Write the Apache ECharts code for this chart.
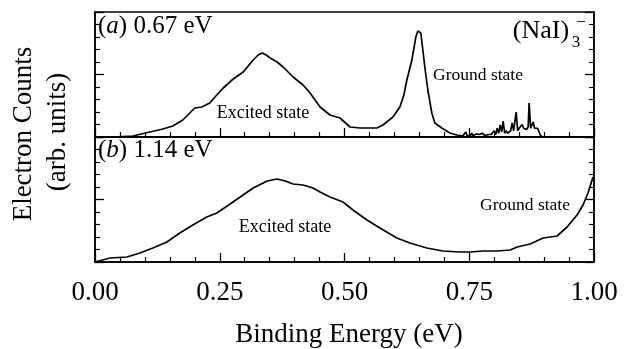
<!DOCTYPE html>
<html>
<head>
<meta charset="utf-8">
<script src="https://cdn.jsdelivr.net/npm/echarts@6/dist/echarts.min.js"></script>
<style>
html,body{margin:0;padding:0;background:#fff;}
#chart{width:629px;height:349px;}
</style>
</head>
<body>
<div id="chart"></div>
<script>
// x tick labels
const xTicks = [0.00, 0.25, 0.50, 0.75, 1.00];

// Panel (a) 0.67 eV: binding energy (eV) and counts (arb. units)
const energyA = [0.000,0.036,0.076,0.110,0.136,0.156,0.176,0.190,0.200,0.214,0.230,0.244,0.257,0.277,0.297,0.317,0.327,0.335,0.343,0.351,0.365,0.377,0.397,0.417,0.431,0.441,0.451,0.471,0.491,0.511,0.531,0.565,0.577,0.597,0.611,0.619,0.625,0.635,0.643,0.647,0.653,0.661,0.667,0.675,0.681,0.695,0.711,0.725,0.737,
0.740,0.743,0.746,0.749,0.752,0.755,0.758,0.761,0.764,0.767,0.770,0.773,0.776,0.779,0.782,0.785,0.788,0.791,0.794,0.797,0.800,0.803,0.806,0.809,0.812,0.815,0.818,0.821,0.824,0.827,0.830,0.833,0.836,0.839,0.842,0.844,0.847,0.850,0.853,0.856,0.859,0.862,0.865,0.868,0.870,0.873,0.876,0.878,0.881,0.884,0.887,0.890,0.893,0.896];
const countsA = [0.00,0.00,0.08,0.40,0.64,0.88,1.36,1.92,2.32,2.40,2.72,3.36,3.92,4.64,5.20,6.16,6.56,6.72,6.56,6.32,6.00,5.60,4.80,4.16,3.52,2.96,2.40,1.76,1.52,0.80,0.72,0.72,0.96,1.60,2.40,3.36,4.56,6.16,8.00,8.48,8.32,5.60,3.76,1.92,1.12,0.72,0.32,0.16,0.08,
0.10,0.40,0.10,0.15,0.10,0.30,0.10,0.20,0.25,0.10,0.20,0.15,0.30,0.15,0.10,0.25,0.20,0.35,0.20,0.30,0.50,0.20,0.70,0.30,0.96,0.40,1.28,0.30,0.50,0.30,0.40,0.50,1.12,0.50,0.60,2.00,0.50,0.70,0.60,1.00,0.70,0.80,0.60,0.80,2.72,0.70,0.80,1.20,0.70,0.60,0.70,0.40,0.10,0.05];

// Panel (b) 1.14 eV
const energyB = [0.000,0.004,0.030,0.064,0.090,0.116,0.144,0.170,0.196,0.224,0.244,0.265,0.291,0.317,0.345,0.365,0.381,0.397,0.417,0.437,0.451,0.471,0.497,0.517,0.545,0.571,0.605,0.631,0.665,0.697,0.731,0.752,0.778,0.806,0.832,0.846,0.872,0.898,0.926,0.946,0.966,0.978,0.988,0.998];
const countsB = [0.00,0.08,0.32,0.40,0.72,1.12,1.60,2.32,2.96,3.60,3.92,4.48,5.20,5.92,6.48,6.64,6.48,6.24,6.16,5.92,5.60,5.20,4.80,4.16,3.36,2.72,1.92,1.52,1.12,0.88,0.80,0.80,0.88,0.88,0.96,1.20,1.44,1.92,2.08,2.80,3.76,4.56,5.52,6.80];

const serif = '"Liberation Serif","DejaVu Serif",serif';
const pair = (xs, ys) => xs.map((x, i) => [x, ys[i]]);

const chart = echarts.init(document.getElementById('chart'), null, {renderer: 'canvas'});

function xAxisFor(gi, showLabels) {
  return {
    type: 'value', gridIndex: gi, min: 0, max: 1, interval: 0.25,
    axisLine: {show: true, lineStyle: {color: '#000', width: 1.5}},
    axisTick: {show: true, inside: true, length: 9, lineStyle: {color: '#000', width: 1.3}},
    minorTick: {show: true, splitNumber: 5, length: 5, lineStyle: {color: '#000', width: 1.2}},
    splitLine: {show: false},
    axisLabel: {show: showLabels, margin: 17, color: '#000', fontFamily: serif, fontSize: 27,
      formatter: v => v.toFixed(2)}
  };
}
function yAxisFor(gi, pos) {
  return {
    type: 'value', gridIndex: gi, min: 0, max: 10, interval: 5, position: pos,
    axisLine: {show: true, lineStyle: {color: '#000', width: 1.5}},
    axisTick: {show: true, inside: true, length: 9, lineStyle: {color: '#000', width: 1.3}},
    minorTick: {show: true, splitNumber: 5, length: 5, lineStyle: {color: '#000', width: 1.2}},
    splitLine: {show: false},
    axisLabel: {show: false}
  };
}

function txt(x, y, text, size, rot) {
  return {
    type: 'text', x: x, y: y, z: 100, rotation: rot || 0,
    style: {text: text, fill: '#000', font: size + 'px ' + serif,
      textAlign: 'center', textVerticalAlign: 'middle'}
  };
}

chart.setOption({
  animation: false,
  backgroundColor: '#fff',
  grid: [
    {left: 95, top: 12, width: 499, height: 125, show: true, borderColor: '#000', borderWidth: 1.5},
    {left: 95, top: 137, width: 499, height: 125, show: true, borderColor: '#000', borderWidth: 1.5}
  ],
  xAxis: [xAxisFor(0, false), xAxisFor(1, true)],
  yAxis: [yAxisFor(0, 'left'), yAxisFor(1, 'left'), yAxisFor(0, 'right'), yAxisFor(1, 'right')],
  series: [
    {type: 'line', xAxisIndex: 0, yAxisIndex: 0, data: pair(energyA, countsA), showSymbol: false,
     lineStyle: {color: '#000', width: 1.7}, clip: true},
    {type: 'line', xAxisIndex: 1, yAxisIndex: 1, data: pair(energyB, countsB), showSymbol: false,
     lineStyle: {color: '#000', width: 1.7}, clip: true}
  ],
  graphic: [
    txt(24, 134, 'Electron Counts', 27, Math.PI / 2),
    txt(58, 132, '(arb. units)', 27, Math.PI / 2),
    txt(349, 335, 'Binding Energy (eV)', 27),
    {type: 'text', x: 98, y: 26, z: 100, style: {text: '{i|(}{it|a}{i|) 0.67 eV}', textVerticalAlign: 'middle',
      rich: {i: {font: '25px ' + serif, fill: '#000'}, it: {font: 'italic 25px ' + serif, fill: '#000'}}}},
    {type: 'text', x: 98, y: 150, z: 100, style: {text: '{i|(}{it|b}{i|) 1.14 eV}', textVerticalAlign: 'middle',
      rich: {i: {font: '25px ' + serif, fill: '#000'}, it: {font: 'italic 25px ' + serif, fill: '#000'}}}},
    {type: 'text', x: 541, y: 31, z: 100, style: {text: '(NaI)', font: '26px ' + serif, fill: '#000', textAlign: 'center', textVerticalAlign: 'middle'}},
    {type: 'text', x: 576, y: 43, z: 100, style: {text: '3', font: '17px ' + serif, fill: '#000', textAlign: 'center', textVerticalAlign: 'middle'}},
    {type: 'text', x: 581, y: 23, z: 100, style: {text: '−', font: '17px ' + serif, fill: '#000', textAlign: 'center', textVerticalAlign: 'middle'}},
    txt(478, 75, 'Ground state', 17.5),
    txt(263, 113, 'Excited state', 18),
    txt(285, 227, 'Excited state', 18),
    txt(525, 205, 'Ground state', 17.5)
  ]
});
</script>
</body>
</html>
